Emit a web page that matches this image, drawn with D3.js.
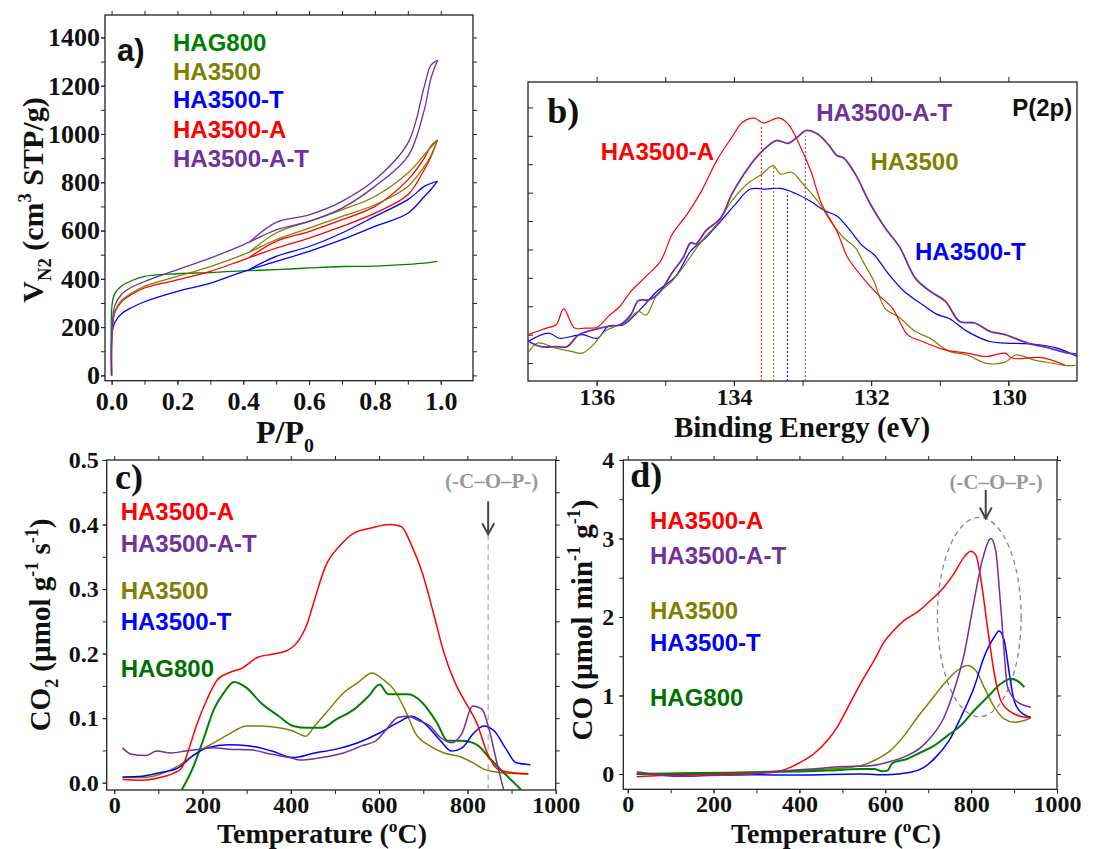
<!DOCTYPE html>
<html>
<head>
<meta charset="utf-8">
<script src="https://cdn.jsdelivr.net/npm/d3@7"></script>
<style>
  body { margin: 0; background: #fff; }
</style>
</head>
<body>
<div id="chart"></div>
<script>
/* ---------- Data: a) N2 isotherms (P/P0, cm3 STP/g) ---------- */
const pAds = [0, 0.002, 0.01, 0.03, 0.06, 0.1, 0.2, 0.3, 0.4, 0.5, 0.6, 0.7, 0.8, 0.9, 0.95, 0.97, 0.99]
const pDes = [0.99, 0.97, 0.95, 0.9, 0.8, 0.7, 0.6, 0.5, 0.42]
const adsHAG800 = [0, 300, 340, 370, 392, 410, 421, 426, 433, 438, 445, 451, 453, 460, 465, 468, 472]
const adsHA3500 = [0, 195, 265, 310, 340, 369, 410, 451, 500, 562, 610, 659, 707, 783, 866, 910, 975]
const desHA3500 = [975, 945, 914, 838, 741, 686, 638, 590, 512]
const adsHA3500T = [0, 180, 220, 255, 280, 305, 348, 382, 430, 472, 514, 562, 617, 672, 741, 770, 805]
const desHA3500T = [805, 795, 783, 728, 659, 590, 534, 493, 440]
const adsHA3500A = [0, 190, 260, 305, 335, 362, 396, 431, 479, 527, 569, 617, 672, 748, 852, 905, 975]
const desHA3500A = [975, 950, 900, 810, 700, 645, 596, 555, 490]
const adsHA3500AT = [0, 210, 290, 335, 365, 389, 438, 486, 541, 603, 638, 693, 783, 907, 1100, 1230, 1305]
const desHA3500AT = [1305, 1285, 1197, 962, 810, 721, 665, 634, 553]

/* ---------- Data: b) XPS P(2p), [binding energy eV, intensity a.u.] ---------- */
const xpsHA3500A = [[137.00,0.155],[136.73,0.177],[136.59,0.188],[136.48,0.241],[136.32,0.177],[136.18,0.177],[135.99,0.180],[135.83,0.216],[135.66,0.25],[135.50,0.30],[135.28,0.35],[135.07,0.40],[134.90,0.49],[134.68,0.558],[134.47,0.636],[134.25,0.737],[134.03,0.815],[133.87,0.866],[133.70,0.879],[133.57,0.863],[133.35,0.88],[133.21,0.86],[133.05,0.793],[132.88,0.703],[132.72,0.591],[132.50,0.502],[132.34,0.412],[132.12,0.345],[131.90,0.289],[131.69,0.244],[131.47,0.155],[131.25,0.132],[130.92,0.104],[130.60,0.093],[130.32,0.082],[130.05,0.093],[129.94,0.076],[129.51,0.078],[129.18,0.053]]
const xpsHA3500AT = [[137.00,0.134],[136.81,0.115],[136.59,0.115],[136.43,0.115],[136.26,0.155],[136.05,0.171],[135.83,0.183],[135.66,0.188],[135.50,0.222],[135.39,0.269],[135.23,0.272],[135.07,0.30],[134.90,0.362],[134.74,0.412],[134.63,0.462],[134.55,0.459],[134.41,0.502],[134.19,0.546],[134.03,0.625],[133.87,0.686],[133.65,0.754],[133.38,0.804],[133.21,0.795],[133.08,0.815],[132.94,0.838],[132.78,0.826],[132.61,0.787],[132.50,0.754],[132.40,0.746],[132.23,0.692],[132.01,0.591],[131.80,0.513],[131.58,0.446],[131.36,0.345],[131.14,0.30],[130.92,0.267],[130.71,0.199],[130.49,0.194],[130.27,0.166],[130.05,0.155],[129.72,0.127],[129.40,0.11],[129.13,0.093],[129.00,0.091]]
const xpsHA3500 = [[137.00,0.093],[136.86,0.127],[136.59,0.11],[136.37,0.099],[136.21,0.093],[136.05,0.121],[135.88,0.166],[135.72,0.183],[135.56,0.199],[135.39,0.233],[135.28,0.22],[135.12,0.289],[134.90,0.334],[134.68,0.40],[134.47,0.468],[134.25,0.524],[134.03,0.602],[133.81,0.658],[133.59,0.692],[133.43,0.72],[133.32,0.692],[133.16,0.698],[132.99,0.658],[132.78,0.602],[132.56,0.524],[132.40,0.479],[132.23,0.446],[132.12,0.40],[131.96,0.334],[131.80,0.244],[131.58,0.211],[131.36,0.166],[131.14,0.143],[130.87,0.10],[130.60,0.087],[130.32,0.059],[130.05,0.063],[129.89,0.087],[129.62,0.07],[129.34,0.059],[129.18,0.052],[129.02,0.052]]
const xpsHA3500T = [[137.00,0.132],[136.70,0.16],[136.54,0.143],[136.21,0.155],[135.99,0.143],[135.83,0.183],[135.61,0.188],[135.39,0.233],[135.12,0.30],[134.85,0.35],[134.63,0.434],[134.41,0.479],[134.19,0.535],[133.98,0.591],[133.76,0.642],[133.54,0.642],[133.32,0.644],[133.10,0.627],[132.89,0.602],[132.67,0.569],[132.50,0.552],[132.34,0.513],[132.12,0.451],[131.96,0.423],[131.74,0.356],[131.52,0.30],[131.25,0.255],[131.03,0.222],[130.87,0.21],[130.60,0.166],[130.27,0.132],[130.05,0.127],[129.62,0.123],[129.29,0.11],[129.00,0.082]]
/* peak positions: [name, eV, height] */
const xpsPeaks = [["HA3500-A", 133.6, 0.855], ["HA3500", 133.42, 0.715], ["HA3500-T", 133.22, 0.63], ["HA3500-A-T", 132.96, 0.82]]

/* ---------- Data: c) CO2 TPD, [T degC, umol/g/s] ---------- */
const co2HA3500A = [[19,0.005],[63,0.004],[104,0.008],[137,0.0155],[153,0.023],[169,0.052],[186,0.088],[210,0.129],[234,0.16],[259,0.17],[291,0.178],[324,0.194],[357,0.199],[389,0.204],[414,0.217],[438,0.248],[454,0.284],[479,0.336],[511,0.367],[544,0.387],[584,0.395],[625,0.40],[650,0.397],[674,0.367],[698,0.325],[723,0.263],[747,0.201],[772,0.155],[796,0.124],[821,0.093],[845,0.046],[869,0.021],[902,0.0155],[938,0.014]]
const co2HA3500AT = [[19,0.054],[39,0.044],[72,0.042],[96,0.049],[129,0.046],[161,0.049],[194,0.052],[226,0.054],[259,0.052],[308,0.051],[357,0.044],[397,0.039],[422,0.035],[470,0.039],[519,0.046],[560,0.057],[593,0.065],[617,0.083],[642,0.101],[666,0.103],[690,0.096],[715,0.088],[739,0.07],[764,0.062],[788,0.077],[812,0.119],[833,0.114],[849,0.083],[865,0.036],[882,-0.011]]
const co2HA3500 = [[19,0.008],[63,0.008],[104,0.013],[145,0.026],[186,0.046],[226,0.062],[259,0.075],[300,0.088],[332,0.088],[373,0.085],[405,0.08],[434,0.072],[454,0.088],[487,0.114],[519,0.139],[552,0.155],[584,0.17],[609,0.16],[633,0.145],[658,0.114],[682,0.077],[715,0.057],[747,0.046],[780,0.041],[812,0.031],[837,0.021],[877,0.0155],[938,0.013]]
const co2HA3500T = [[19,0.009],[63,0.010],[104,0.0155],[145,0.023],[177,0.041],[210,0.054],[259,0.059],[308,0.057],[357,0.049],[405,0.039],[454,0.046],[503,0.052],[552,0.062],[601,0.077],[642,0.093],[674,0.103],[706,0.09],[739,0.065],[764,0.049],[788,0.054],[812,0.075],[837,0.088],[861,0.08],[886,0.054],[910,0.031],[943,0.028]]
const co2HAG800 = [[153,-0.011],[177,0.021],[202,0.067],[226,0.114],[251,0.142],[271,0.156],[300,0.147],[332,0.124],[373,0.103],[405,0.088],[438,0.085],[470,0.085],[503,0.098],[544,0.114],[576,0.134],[601,0.152],[621,0.137],[666,0.137],[698,0.124],[731,0.093],[755,0.065],[788,0.065],[821,0.059],[853,0.036],[886,0.013],[922,-0.011]]

/* ---------- Data: d) CO TPD, [T degC, umol/min/g] ---------- */
const coHA3500A = [[21,-0.034],[75,-0.02],[153,-0.013],[231,0],[309,0.013],[348,0.03],[379,0.085],[402,0.149],[433,0.255],[465,0.426],[488,0.596],[511,0.83],[542,1.149],[574,1.447],[597,1.681],[620,1.83],[644,1.957],[675,2.064],[706,2.213],[737,2.383],[760,2.553],[784,2.766],[799,2.838],[811,2.787],[823,2.468],[838,1.872],[854,1.277],[869,0.936],[893,0.787],[916,0.732],[939,0.715]]
const coHA3500AT = [[21,0.03],[60,0],[114,-0.03],[192,-0.02],[270,-0.01],[348,0.034],[426,0.064],[504,0.094],[566,0.106],[605,0.149],[651,0.234],[683,0.34],[706,0.468],[737,0.723],[760,1.064],[784,1.532],[807,2.213],[827,2.745],[846,3.0],[857,2.851],[869,2.128],[885,1.106],[900,0.957],[924,0.872],[939,0.851]]
const coHA3500 = [[21,0.009],[153,0],[309,0.03],[465,0.064],[542,0.106],[581,0.191],[612,0.298],[644,0.489],[675,0.723],[706,0.936],[737,1.149],[768,1.319],[791,1.383],[811,1.319],[830,1.106],[854,0.851],[877,0.702],[900,0.66],[924,0.681],[939,0.715]]
const coHA3500T = [[21,0],[153,0],[309,-0.01],[402,-0.013],[542,0],[605,-0.01],[659,0.021],[690,0.085],[721,0.234],[753,0.468],[776,0.723],[807,1.106],[830,1.489],[854,1.745],[865,1.821],[877,1.702],[889,1.277],[900,0.936],[916,0.787],[939,0.723]]
const coHAG800 = [[21,0],[153,0.013],[309,0.021],[465,0.043],[542,0.064],[574,0.064],[593,0.034],[605,0.043],[616,0.136],[651,0.191],[683,0.277],[714,0.362],[745,0.489],[776,0.617],[807,0.809],[838,0.979],[869,1.149],[893,1.213],[912,1.17],[924,1.106]]

/* ---------- Setup ---------- */
const W = 1102, H = 849
const SERIF = "'Liberation Serif','Times New Roman',serif"
const SANS = "'Liberation Sans',Arial,sans-serif"
const color = {
  "HAG800": "#008000",
  "HA3500": "#808000",
  "HA3500-T": "#0000ff",
  "HA3500-A": "#ff0000",
  "HA3500-A-T": "#7030a0"
}

const svg = d3.select("#chart").append("svg")
  .attr("width", W).attr("height", H)
  .style("background", "#fff")

/* Draw frame, ticks and tick labels of one panel. */
function axes(g, x, y, o) {
  const [x0, x1] = x.range()
  const [y1, y0] = y.range()
  const t = o.tick || 4

  const add = (gen, tx, ty) => g.append("g").attr("transform", `translate(${tx},${ty})`).call(gen)

  add(d3.axisBottom(x).tickValues(o.xAll).tickFormat("").tickSize(t).tickSizeOuter(0), 0, y1)
  add(d3.axisBottom(x).tickValues(o.xMajor).tickFormat(o.xFmt).tickSize(t).tickSizeOuter(0).tickPadding(o.xPad), 0, y1)
  add(d3.axisTop(x).tickValues(o.xAll).tickFormat("").tickSize(t).tickSizeOuter(0), 0, y0)
  if (o.yMajor) {
    add(d3.axisLeft(y).tickValues(o.yAll).tickFormat("").tickSize(t).tickSizeOuter(0), x0, 0)
    add(d3.axisLeft(y).tickValues(o.yMajor).tickFormat(o.yFmt).tickSize(t).tickSizeOuter(0).tickPadding(o.yPad), x0, 0)
    add(d3.axisRight(y).tickValues(o.yAll).tickFormat("").tickSize(t).tickSizeOuter(0), x1, 0)
  } else {
    add(d3.axisLeft(y).tickValues(o.yAll).tickFormat("").tickSize(-t).tickSizeOuter(0), x0, 0)
  }

  g.selectAll(".domain").remove()
  g.selectAll(".tick line").attr("stroke", "#222").attr("stroke-width", 1)
  g.selectAll(".tick text")
    .attr("font-family", SERIF).attr("font-weight", "bold")
    .attr("font-size", o.fs).attr("fill", "#111")

  g.append("rect")
    .attr("x", x0).attr("y", y0)
    .attr("width", x1 - x0).attr("height", y1 - y0)
    .attr("fill", "none").attr("stroke", "#222").attr("stroke-width", 1.3)
}

/* Text with sub/superscripts: parts = [[text, "n"|"sub"|"sup"]] */
function rich(sel, parts, fs) {
  let shift = 0
  parts.forEach(([txt, kind]) => {
    const sp = sel.append("tspan").text(txt)
    let target = 0
    if (kind === "sub") { target = fs * 0.28; sp.attr("font-size", fs * 0.62) }
    if (kind === "sup") { target = -fs * 0.4; sp.attr("font-size", fs * 0.62) }
    sp.attr("dy", target - shift)
    shift = target
  })
  return sel
}

function yTitle(cx, cy, parts, fs) {
  const t = svg.append("text")
    .attr("transform", `translate(${cx},${cy}) rotate(-90)`)
    .attr("text-anchor", "middle")
    .attr("font-family", SERIF).attr("font-weight", "bold")
    .attr("font-size", fs).attr("fill", "#111")
  rich(t, parts, fs)
}

function xTitle(cx, cy, parts, fs) {
  const t = svg.append("text")
    .attr("x", cx).attr("y", cy)
    .attr("text-anchor", "middle")
    .attr("font-family", SERIF).attr("font-weight", "bold")
    .attr("font-size", fs).attr("fill", "#111")
  rich(t, parts, fs)
}

function clipFor(id, x, y) {
  const [x0, x1] = x.range()
  const [y1, y0] = y.range()
  svg.append("clipPath").attr("id", id)
    .append("rect").attr("x", x0).attr("y", y0).attr("width", x1 - x0).attr("height", y1 - y0)
  return svg.append("g").attr("clip-path", `url(#${id})`)
}

function label(x, y, txt, fill, fs, family, anchor) {
  svg.append("text")
    .attr("x", x).attr("y", y)
    .attr("text-anchor", anchor || "start")
    .attr("font-family", family).attr("font-weight", "bold")
    .attr("font-size", fs).attr("fill", fill)
    .text(txt)
}

function arrow(x, yTop, yTip) {
  svg.append("line")
    .attr("x1", x).attr("x2", x).attr("y1", yTop).attr("y2", yTip)
    .attr("stroke", "#444").attr("stroke-width", 2)
  svg.append("path")
    .attr("d", `M${x - 6},${yTip - 11}L${x},${yTip}L${x + 6},${yTip - 11}`)
    .attr("fill", "none").attr("stroke", "#444").attr("stroke-width", 2)
}

/* ================= Panel a ================= */
const xA = d3.scaleLinear([-0.02, 1.098], [105, 473])
const yA = d3.scaleLinear([-22, 1493], [380.7, 15])
const gA = svg.append("g")
axes(gA, xA, yA, {
  xAll: d3.range(0, 1.05, 0.1), xMajor: d3.range(0, 1.05, 0.2), xFmt: d3.format(".1f"), xPad: 7,
  yAll: d3.range(0, 1401, 100), yMajor: d3.range(0, 1401, 200), yFmt: d3.format("d"), yPad: 1,
  fs: 26
})
const cA = clipFor("clipA", xA, yA)
const lineA = d3.line().x(d => xA(d[0])).y(d => yA(d[1])).curve(d3.curveCatmullRom.alpha(0.5))
const isoSeries = [
  ["HAG800", adsHAG800, null],
  ["HA3500-T", adsHA3500T, desHA3500T],
  ["HA3500-A", adsHA3500A, desHA3500A],
  ["HA3500", adsHA3500, desHA3500],
  ["HA3500-A-T", adsHA3500AT, desHA3500AT]
]
isoSeries.forEach(([name, ads, des]) => {
  cA.append("path").datum(pAds.map((p, i) => [p, ads[i]]))
    .attr("d", lineA).attr("fill", "none").attr("stroke", color[name]).attr("stroke-width", 1.3)
  if (des) {
    cA.append("path").datum(pDes.map((p, i) => [p, des[i]]))
      .attr("d", lineA).attr("fill", "none").attr("stroke", color[name]).attr("stroke-width", 1.3)
  }
})
label(117, 61, "a)", "#111", 31, SANS)
const legA = ["HAG800", "HA3500", "HA3500-T", "HA3500-A", "HA3500-A-T"]
legA.forEach((n, i) => label(173, [51, 80, 108, 138, 167][i], n, color[n], 24, SANS))
yTitle(43, 200, [["V", "n"], ["N", "sub"], ["2", "sub"], [" (cm", "n"], ["3", "sup"], [" STP/g)", "n"]], 30)
xTitle(285, 443, [["P/P", "n"], ["0", "sub"]], 32)

/* ================= Panel b ================= */
const xB = d3.scaleLinear([137, 129], [528, 1077])
const yB = d3.scaleLinear([0, 1], [381, 82])
const gB = svg.append("g")
axes(gB, xB, yB, {
  xAll: d3.range(130, 136.5, 1), xMajor: [136, 134, 132, 130], xFmt: d3.format("d"), xPad: 2,
  yAll: d3.range(0.06, 0.95, 0.095),
  fs: 24, tick: 5
})
const cB = clipFor("clipB", xB, yB)
const lineB = d3.line().x(d => xB(d[0])).y(d => yB(d[1])).curve(d3.curveCatmullRom.alpha(0.5))
xpsPeaks.forEach(([n, e, h]) => {
  cB.append("line")
    .attr("x1", xB(e)).attr("x2", xB(e)).attr("y1", yB(0)).attr("y2", yB(h))
    .attr("stroke", color[n]).attr("stroke-width", 1).attr("stroke-dasharray", "2,2")
})
const xpsSeries = [["HA3500-T", xpsHA3500T], ["HA3500", xpsHA3500], ["HA3500-A", xpsHA3500A], ["HA3500-A-T", xpsHA3500AT]]
xpsSeries.forEach(([n, d]) => {
  cB.append("path").datum(d).attr("d", lineB)
    .attr("fill", "none").attr("stroke", color[n]).attr("stroke-width", n === "HA3500-A-T" ? 1.8 : 1.2)
})
label(xB(136.72), yB(0.905) + 13, "b)", "#111", 36, SERIF)
label(xB(135.94), yB(0.77) + 9, "HA3500-A", color["HA3500-A"], 24, SANS)
label(xB(132.8), yB(0.9) + 9, "HA3500-A-T", color["HA3500-A-T"], 24, SANS)
label(xB(132.01), yB(0.737) + 9, "HA3500", color["HA3500"], 24, SANS)
label(xB(131.36), yB(0.434) + 9, "HA3500-T", color["HA3500-T"], 24, SANS)
label(xB(129.07), yB(0.916) + 9, "P(2p)", "#111", 24, SANS, "end")
xTitle(802, 437, [["Binding Energy (eV)", "n"]], 29)

/* ================= Panel c ================= */
const xC = d3.scaleLinear([-17, 1000], [106.7, 555.7])
const yC = d3.scaleLinear([-0.0113, 0.5], [790, 460])
const gC = svg.append("g")
axes(gC, xC, yC, {
  xAll: d3.range(0, 1001, 100), xMajor: d3.range(0, 1001, 200), xFmt: d3.format("d"), xPad: 2,
  yAll: d3.range(0, 0.501, 0.05), yMajor: d3.range(0, 0.501, 0.1), yFmt: d3.format(".1f"), yPad: 4,
  fs: 24
})
const cC = clipFor("clipC", xC, yC)
cC.append("line")
  .attr("x1", xC(847)).attr("x2", xC(847)).attr("y1", yC(0.385)).attr("y2", yC(-0.0113))
  .attr("stroke", "#aaa").attr("stroke-width", 1.2).attr("stroke-dasharray", "6,4")
const lineC = d3.line().x(d => xC(d[0])).y(d => yC(d[1])).curve(d3.curveMonotoneX)
const co2Series = [["HA3500", co2HA3500], ["HAG800", co2HAG800], ["HA3500-T", co2HA3500T], ["HA3500-A-T", co2HA3500AT], ["HA3500-A", co2HA3500A]]
co2Series.forEach(([n, d]) => {
  cC.append("path").datum(d).attr("d", lineC)
    .attr("fill", "none").attr("stroke", color[n]).attr("stroke-width", n === "HAG800" ? 2 : 1.5)
})
arrow(xC(847), yC(0.436), yC(0.385))
label(xC(855), yC(0.467) + 7, "(-C\u2013O\u2013P-)", "#999", 21, SERIF, "middle")
label(xC(2), yC(0.4545), "c)", "#111", 36, SERIF)
const legC = [["HA3500-A", 0.421], ["HA3500-A-T", 0.371], ["HA3500", 0.299], ["HA3500-T", 0.251], ["HAG800", 0.178]]
legC.forEach(([n, v]) => label(xC(14.6), yC(v) + 9, n, n === "HAG800" ? "#007000" : color[n], 24, SANS))
yTitle(50, 625, [["CO", "n"], ["2", "sub"], [" (\u00b5mol g", "n"], ["-1", "sup"], [" s", "n"], ["-1", "sup"], [")", "n"]], 29)
xTitle(322, 843, [["Temperature (", "n"], ["o", "sup"], ["C)", "n"]], 28)

/* ================= Panel d ================= */
const xD = d3.scaleLinear([-10.3, 1000], [623.3, 1057])
const yD = d3.scaleLinear([-0.195, 4], [789.3, 460])
const gD = svg.append("g")
axes(gD, xD, yD, {
  xAll: d3.range(0, 1001, 100), xMajor: d3.range(0, 1001, 200), xFmt: d3.format("d"), xPad: 2,
  yAll: d3.range(0, 4.01, 0.5), yMajor: d3.range(0, 4.01, 1), yFmt: d3.format("d"), yPad: 5,
  fs: 24
})
const cD = clipFor("clipD", xD, yD)
const lineD = d3.line().x(d => xD(d[0])).y(d => yD(d[1])).curve(d3.curveMonotoneX)
cD.append("ellipse")
  .attr("cx", xD(819)).attr("cy", yD(2.0))
  .attr("rx", xD(916.5) - xD(819)).attr("ry", yD(0.73) - yD(2.0))
  .attr("fill", "none").attr("stroke", "#888").attr("stroke-width", 1.3).attr("stroke-dasharray", "5,4")
const coSeries = [["HA3500", coHA3500], ["HA3500-T", coHA3500T], ["HAG800", coHAG800], ["HA3500-A", coHA3500A], ["HA3500-A-T", coHA3500AT]]
coSeries.forEach(([n, d]) => {
  cD.append("path").datum(d).attr("d", lineD)
    .attr("fill", "none").attr("stroke", color[n]).attr("stroke-width", n === "HAG800" ? 2 : 1.5)
})
arrow(xD(834), yD(3.617), yD(3.255))
label(xD(858), yD(3.72) + 7, "(-C\u2013O\u2013P-)", "#999", 21, SERIF, "middle")
label(xD(6), yD(3.66), "d)", "#111", 36, SERIF)
const legD = [["HA3500-A", 3.23], ["HA3500-A-T", 2.79], ["HA3500", 2.09], ["HA3500-T", 1.68], ["HAG800", 0.98]]
legD.forEach(([n, v]) => label(xD(52), yD(v) + 9, n, n === "HAG800" ? "#007000" : color[n], 24, SANS))
yTitle(592, 620, [["CO (\u00b5mol min", "n"], ["-1", "sup"], [" g", "n"], ["-1", "sup"], [")", "n"]], 29)
xTitle(836, 843, [["Temperature (", "n"], ["o", "sup"], ["C)", "n"]], 28)
</script>
</body>
</html>
